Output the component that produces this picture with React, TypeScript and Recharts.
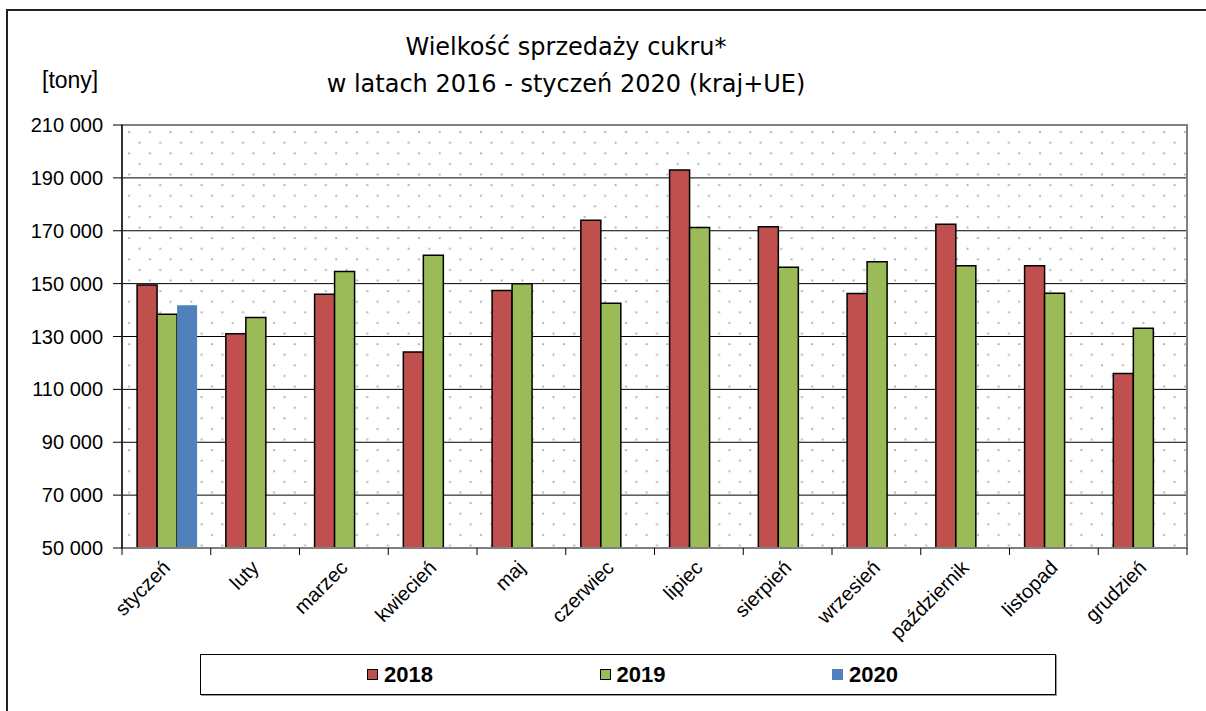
import { BarChart, Bar, XAxis, YAxis, CartesianGrid, ReferenceArea } from "recharts"

// monthly sugar sales, tonnes
const months = [
  "styczeń", "luty", "marzec", "kwiecień", "maj", "czerwiec",
  "lipiec", "sierpień", "wrzesień", "październik", "listopad", "grudzień",
]
const sales2018 = [149500, 131000, 146000, 124100, 147400, 174000, 193000, 171500, 146300, 172500, 156800, 116000]
const sales2019 = [138400, 137200, 154600, 160700, 150000, 142600, 171200, 156200, 158300, 156800, 146400, 133100]
const sales2020 = [141800, null, null, null, null, null, null, null, null, null, null, null]
const yTicks = [50000, 70000, 90000, 110000, 130000, 150000, 170000, 190000, 210000]

const series = [
  { key: "y2018", name: "2018", color: "#C0504D", stroke: "#000" },
  { key: "y2019", name: "2019", color: "#9BBB59", stroke: "#000" },
  { key: "y2020", name: "2020", color: "#4F81BD", stroke: "none" },
]

const data = months.map((m, i) => ({
  month: m,
  y2018: sales2018[i],
  y2019: sales2019[i],
  y2020: sales2020[i],
}))

const fmt = (v: number) => v.toString().replace(/\B(?=(\d{3})+(?!\d))/g, " ")

const AXIS_FONT = "'Liberation Sans', Arial, sans-serif"
const BAND = (1206 - 122 - 19) / months.length

function MonthTick(props: any) {
  const { x, y, payload, index } = props
  const half = BAND / 2
  return (
    <g>
      <line x1={x - half} x2={x - half} y1={y - 8} y2={y - 1} stroke="#000" strokeWidth={1} />
      {index === months.length - 1 && (
        <line x1={x + half} x2={x + half} y1={y - 8} y2={y - 1} stroke="#000" strokeWidth={1} />
      )}
      <text
        x={x + 5}
        y={y + 13}
        textAnchor="end"
        transform={`rotate(-45, ${x + 5}, ${y + 13})`}
        fontFamily={AXIS_FONT}
        fontSize={20}
        fill="#000"
      >
        {payload.value}
      </text>
    </g>
  )
}

export default function App() {
  return (
    <div style={{ position: "absolute", left: 0, top: 0, width: 1206, height: 711, overflow: "hidden", background: "#fff" }}>
      <div
        style={{
          position: "absolute",
          left: 6,
          top: 9,
          width: 1260,
          height: 760,
          border: "2px solid #222",
        }}
      />
      <div
        style={{
          position: "absolute",
          left: 0,
          width: 1132,
          top: 29,
          textAlign: "center",
          fontFamily: "'Comic Sans MS', 'DejaVu Sans', sans-serif",
          fontSize: 24,
          lineHeight: "37px",
          color: "#000",
        }}
      >
        Wielkość sprzedaży cukru*
        <br />
        w latach 2016 - styczeń 2020 (kraj+UE)
      </div>
      <div
        style={{
          position: "absolute",
          left: 42,
          top: 66,
          fontFamily: AXIS_FONT,
          fontSize: 23,
          lineHeight: "28px",
          color: "#000",
        }}
      >
        [tony]
      </div>

      <div style={{ position: "absolute", left: 0, top: 0 }}>
        <BarChart
          width={1206}
          height={711}
          data={data}
          margin={{ top: 125, right: 19, bottom: 103, left: 42 }}
          barCategoryGap="17%"
          barGap={0}
        >
          <defs>
            <pattern id="dots" width="20.7" height="21.2" patternUnits="userSpaceOnUse">
              <rect width="20.7" height="21.2" fill="#fff" />
              <circle cx="5" cy="5" r="1.1" fill="#b0b0b0" />
              <circle cx="15.35" cy="15.6" r="1.1" fill="#b0b0b0" />
            </pattern>
          </defs>
          <CartesianGrid vertical={false} stroke="#000" strokeWidth={1} fill="url(#dots)" fillOpacity={1} />
          <XAxis
            dataKey="month"
            height={60}
            interval={0}
            tick={<MonthTick />}
            tickLine={false}
            tickSize={8}
            tickMargin={0}
            axisLine={{ stroke: "#808080", strokeWidth: 2 }}
          />
          <YAxis
            width={80}
            domain={[50000, 210000]}
            ticks={yTicks}
            tickFormatter={fmt}
            tickSize={9}
            tickMargin={10}
            tick={{ fontFamily: AXIS_FONT, fontSize: 20, fill: "#000" }}
            tickLine={{ stroke: "#000" }}
            axisLine={{ stroke: "#333", strokeWidth: 2 }}
          />
          <ReferenceArea y1={50000} y2={210000} fill="none" stroke="#808080" strokeWidth={2} />
          {series.map((s) => (
            <Bar
              key={s.key}
              dataKey={s.key}
              name={s.name}
              fill={s.color}
              stroke={s.stroke}
              strokeWidth={1.5}
              isAnimationActive={false}
            />
          ))}
        </BarChart>
      </div>

      <div
        style={{
          position: "absolute",
          left: 200,
          top: 654,
          width: 854,
          height: 39,
          border: "1px solid #000",
          boxShadow: "1px 1px 0 #999",
          background: "#fff",
        }}
      >
        {series.map((s, i) => (
          <div
            key={s.key}
            style={{
              position: "absolute",
              left: 166 + i * 232.5,
              top: 0,
              height: 39,
              display: "flex",
              alignItems: "center",
            }}
          >
            <span
              style={{
                display: "inline-block",
                width: s.stroke === "none" ? 11 : 9,
                height: s.stroke === "none" ? 11 : 9,
                background: s.color,
                border: s.stroke === "none" ? "none" : "1px solid #000",
                marginRight: 6,
              }}
            />
            <span style={{ fontFamily: AXIS_FONT, fontWeight: "bold", fontSize: 22, color: "#000" }}>{s.name}</span>
          </div>
        ))}
      </div>
    </div>
  )
}
